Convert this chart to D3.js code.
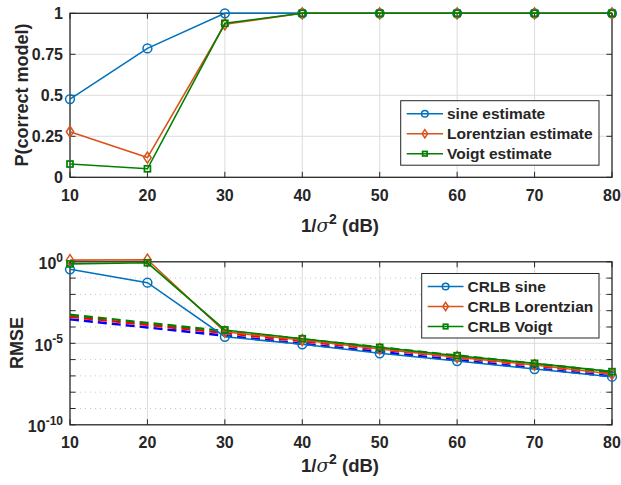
<!DOCTYPE html>
<html>
<head>
<meta charset="utf-8">
<script src="https://cdn.jsdelivr.net/npm/d3@7"></script>
<style>
  body { margin:0; background:#fff; }
  text { font-family: "Liberation Sans", Arial, sans-serif; font-weight: bold; fill:#262626; }
</style>
</head>
<body>
<div id="plot"></div>
<script>
// data
var snr = [10, 20, 30, 40, 50, 60, 70, 80];

// top panel: probability of picking the correct model
var pSine = [0.477, 0.786, 1, 1, 1, 1, 1, 1];
var pLor  = [0.278, 0.12, 0.933, 1, 1, 1, 1, 1];
var pVoigt = [0.081, 0.052, 0.939, 1, 1, 1, 1, 1];
var pTicks = [0, 0.25, 0.5, 0.75, 1];
var topLegend = ["sine estimate", "Lorentzian estimate", "Voigt estimate"];

// bottom panel: log10 of RMSE
var logRmseSine  = [-0.46, -1.28, -4.6, -5.06, -5.61, -6.09, -6.58, -7.05];
var logRmseLor   = [0.1, 0.13, -4.29, -4.8, -5.35, -5.85, -6.33, -6.88];
var logRmseVoigt = [-0.13, -0.06, -4.18, -4.72, -5.25, -5.76, -6.23, -6.74];
var logCrlbSine  = [-3.53, -4.03, -4.53, -5.03, -5.53, -6.03, -6.53, -7.03];
var logCrlbLor   = [-3.37, -3.87, -4.37, -4.87, -5.37, -5.87, -6.37, -6.87];
var logCrlbVoigt = [-3.25, -3.75, -4.25, -4.75, -5.25, -5.75, -6.25, -6.75];
var rmseMajor = [0, -5, -10];
var bottomLegend = ["CRLB sine", "CRLB Lorentzian", "CRLB Voigt"];

var colors = ["#0072BD", "#D95319", "#008000"];
var dashColors = ["#0000ff", "#ff0000", "#008000"];
var shapes = ["circle", "diamond", "square"];

var svg = d3.select('#plot').append('svg')
    .attr('width', 621).attr('height', 485);

var x = d3.scaleLinear().domain([10, 80]).range([70, 612]);
var xTicks = snr;

function marker(g, shape, cx, cy, col, s) {
    s = s || 1;
    if (shape == "circle") {
        g.append('circle').attr('cx', cx).attr('cy', cy).attr('r', 4.4 * s)
            .attr('fill', 'none').attr('stroke', col).attr('stroke-width', 1.5);
    } else if (shape == "diamond") {
        g.append('path').attr('d', 'M' + cx + ',' + (cy - 5.5 * s) + 'L' + (cx + 3.7 * s) + ',' + cy + 'L' + cx + ',' + (cy + 5.5 * s) + 'L' + (cx - 3.7 * s) + ',' + cy + 'Z')
            .attr('fill', 'none').attr('stroke', col).attr('stroke-width', 1.5);
    } else {
        g.append('rect').attr('x', cx - 3 * s).attr('y', cy - 3 * s).attr('width', 6 * s).attr('height', 6 * s)
            .attr('fill', 'none').attr('stroke', col).attr('stroke-width', 1.7);
    }
}

function frame(top, bottom) {
    // vertical grid lines
    svg.append('g').selectAll('line').data(xTicks.slice(1, -1)).enter().append('line')
        .attr('x1', function(d){return x(d);}).attr('x2', function(d){return x(d);})
        .attr('y1', top).attr('y2', bottom)
        .attr('stroke', '#dcdcdc').attr('stroke-width', 1);
}

function box(top, bottom, yTickVals, y, tickLen) {
    var g = svg.append('g');
    g.append('rect').attr('x', 70).attr('y', top).attr('width', 542).attr('height', bottom - top)
        .attr('fill', 'none').attr('stroke', '#262626').attr('stroke-width', 1.3);
    xTicks.forEach(function(d){
        g.append('line').attr('x1', x(d)).attr('x2', x(d)).attr('y1', bottom).attr('y2', bottom - tickLen)
            .attr('stroke', '#262626');
        g.append('line').attr('x1', x(d)).attr('x2', x(d)).attr('y1', top).attr('y2', top + tickLen)
            .attr('stroke', '#262626');
        g.append('text').attr('x', x(d)).attr('y', bottom + 23.5).attr('text-anchor', 'middle')
            .style('font-size', '16px').text(d);
    });
    yTickVals.forEach(function(d){
        g.append('line').attr('x1', 70).attr('x2', 70 + tickLen).attr('y1', y(d)).attr('y2', y(d))
            .attr('stroke', '#262626');
        g.append('line').attr('x1', 612).attr('x2', 612 - tickLen).attr('y1', y(d)).attr('y2', y(d))
            .attr('stroke', '#262626');
    });
}

function legend(left, top, w, labels, textX) {
    var g = svg.append('g');
    g.append('rect').attr('x', left).attr('y', top).attr('width', w).attr('height', 64.5)
        .attr('fill', '#fff').attr('stroke', '#262626').attr('stroke-width', 1);
    labels.forEach(function(lab, i){
        var cy = top + 13 + i * 20;
        g.append('line').attr('x1', left + 6).attr('x2', textX - 4).attr('y1', cy).attr('y2', cy)
            .attr('stroke', colors[i]).attr('stroke-width', 1.6);
        marker(g, shapes[i], (left + 6 + textX - 4) / 2, cy, colors[i], 0.75);
        g.append('text').attr('x', textX).attr('y', cy + 5.5).style('font-size', '15.5px').text(lab);
    });
}

function xLabel(yBase) {
    var t = svg.append('text').attr('x', 340).attr('y', yBase).attr('text-anchor', 'middle')
        .style('font-size', '18.5px');
    t.append('tspan').text('1/');
    t.append('tspan').style('font-family', '"DejaVu Serif", serif').style('font-style', 'italic')
        .style('font-weight', 'normal').text('σ');
    t.append('tspan').attr('dy', -8).style('font-size', '14px').text('2');
    t.append('tspan').attr('dy', 8).text(' (dB)');
}

// ---------- top panel ----------
var yTop = d3.scaleLinear().domain([0, 1]).range([177.3, 13.3]);
frame(13.3, 177.3);
svg.append('g').selectAll('line').data(pTicks.slice(1, -1)).enter().append('line')
    .attr('x1', 70).attr('x2', 612)
    .attr('y1', function(d){return yTop(d);}).attr('y2', function(d){return yTop(d);})
    .attr('stroke', '#dcdcdc');
box(13.3, 177.3, pTicks, yTop, 5.5);
pTicks.forEach(function(d){
    svg.append('text').attr('x', 63).attr('y', yTop(d) + 6).attr('text-anchor', 'end')
        .style('font-size', '16px').text(d);
});

var topSeries = [pSine, pLor, pVoigt];
var lineTop = d3.line().x(function(d, i){return x(snr[i]);}).y(function(d){return yTop(d);});
topSeries.forEach(function(s, k){
    var g = svg.append('g');
    g.append('path').attr('d', lineTop(s)).attr('fill', 'none')
        .attr('stroke', colors[k]).attr('stroke-width', 1.6);
    s.forEach(function(v, i){ marker(g, shapes[k], x(snr[i]), yTop(v), colors[k]); });
});
legend(400.7, 100.7, 198.3, topLegend, 447);

svg.append('text').attr('transform', 'translate(28,95) rotate(-90)').attr('text-anchor', 'middle')
    .style('font-size', '18px').text('P(correct model)');
xLabel(232);

// ---------- bottom panel ----------
var yBot = d3.scaleLinear().domain([-10, 0]).range([424.8, 261.8]);
frame(261.8, 424.8);
var decades = d3.range(-9, 0).filter(function(d){return d != -5;});
svg.append('g').selectAll('line').data(decades).enter().append('line')
    .attr('x1', 70).attr('x2', 612)
    .attr('y1', function(d){return yBot(d);}).attr('y2', function(d){return yBot(d);})
    .attr('stroke', '#c8c8c8').attr('stroke-dasharray', '1,4');
svg.append('line').attr('x1', 70).attr('x2', 612).attr('y1', yBot(-5)).attr('y2', yBot(-5))
    .attr('stroke', '#dcdcdc');
box(261.8, 424.8, d3.range(-10, 1), yBot, 5.5);
rmseMajor.forEach(function(d){
    var t = svg.append('text').attr('x', 63).attr('y', yBot(d) + 7.5).attr('text-anchor', 'end')
        .style('font-size', '16px');
    t.append('tspan').text('10');
    t.append('tspan').attr('dy', -7.5).style('font-size', '12px').text(d);
});

var lineBot = d3.line().x(function(d, i){return x(snr[i]);}).y(function(d){return yBot(d);});
var crlb = [logCrlbSine, logCrlbLor, logCrlbVoigt];
crlb.forEach(function(s, k){
    svg.append('path').attr('d', lineBot(s)).attr('fill', 'none')
        .attr('stroke', dashColors[k]).attr('stroke-width', 2.4).attr('stroke-dasharray', '9,5');
});
var botSeries = [logRmseSine, logRmseLor, logRmseVoigt];
botSeries.forEach(function(s, k){
    var g = svg.append('g');
    g.append('path').attr('d', lineBot(s)).attr('fill', 'none')
        .attr('stroke', colors[k]).attr('stroke-width', 1.6);
    s.forEach(function(v, i){ marker(g, shapes[k], x(snr[i]), yBot(v), colors[k]); });
});
legend(421.7, 273.5, 177.3, bottomLegend, 467.5);

svg.append('text').attr('transform', 'translate(23,343) rotate(-90)').attr('text-anchor', 'middle')
    .style('font-size', '18px').text('RMSE');
xLabel(472);
</script>
</body>
</html>
